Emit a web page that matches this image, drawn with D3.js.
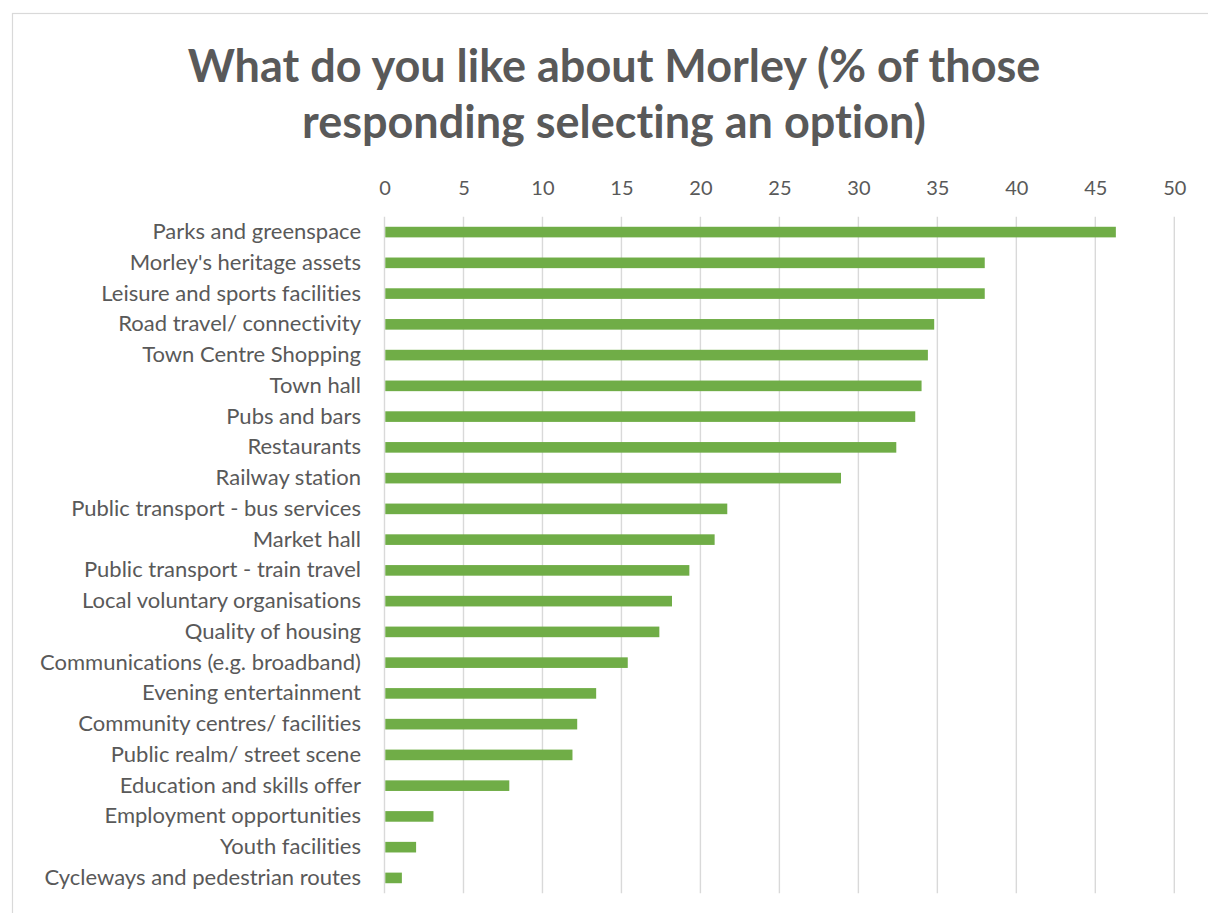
<!DOCTYPE html>
<html>
<head>
<meta charset="utf-8">
<script src="https://cdn.jsdelivr.net/npm/d3@7"></script>
<style>
  html, body { margin: 0; padding: 0; background: #fff; }
  svg { display: block; }
  svg text { font-variant-ligatures: none; font-feature-settings: "liga" 0, "clig" 0; }
</style>
</head>
<body>
<svg id="chart" width="1208" height="913"></svg>
<script>
// Survey responses: share of respondents choosing each option (%)
const categories = [
  "Parks and greenspace",
  "Morley's heritage assets",
  "Leisure and sports facilities",
  "Road travel/ connectivity",
  "Town Centre Shopping",
  "Town hall",
  "Pubs and bars",
  "Restaurants",
  "Railway station",
  "Public transport - bus services",
  "Market hall",
  "Public transport - train travel",
  "Local voluntary organisations",
  "Quality of housing",
  "Communications (e.g. broadband)",
  "Evening entertainment",
  "Community centres/ facilities",
  "Public realm/ street scene",
  "Education and skills offer",
  "Employment opportunities",
  "Youth facilities",
  "Cycleways and pedestrian routes"
];
const values = [
  46.3, 38.0, 38.0, 34.8, 34.4, 34.0, 33.6, 32.4, 28.9, 21.7, 20.9,
  19.3, 18.2, 17.4, 15.4, 13.4, 12.2, 11.9, 7.9, 3.1, 2.0, 1.1
];
const tickValues = [0, 5, 10, 15, 20, 25, 30, 35, 40, 45, 50];
const titleLines = [
  "What do you like about Morley (% of those",
  "responding selecting an option)"
];

const data = categories.map((c, i) => ({ name: c, value: values[i] }));

const svg = d3.select("#chart");
const font = "Lato, 'Open Sans', sans-serif";
const textColor = "#595959";

// chart area outline
svg.append("rect")
  .attr("x", 12.5).attr("y", 13.5)
  .attr("width", 1400).attr("height", 1000)
  .attr("fill", "#fff")
  .attr("stroke", "#d9d9d9").attr("stroke-width", 1.2);

const plot = { left: 384.5, right: 1174.3, top: 216.7, bottom: 893.3 };

const x = d3.scaleLinear().domain([0, 50]).range([plot.left, plot.right]);
const y = d3.scaleBand().domain(categories)
  .range([plot.top, plot.bottom])
  .paddingInner(0.655).paddingOuter(0.3275);

// title
svg.append("g").selectAll("text")
  .data(titleLines).join("text")
  .attr("x", 614)
  .attr("y", (d, i) => 82 + i * 56)
  .attr("text-anchor", "middle")
  .attr("font-family", font)
  .attr("font-weight", 700)
  .attr("font-size", 45)
  .attr("fill", textColor)
  .text(d => d);

// vertical gridlines
svg.append("g").selectAll("line")
  .data(tickValues).join("line")
  .attr("x1", d => x(d)).attr("x2", d => x(d))
  .attr("y1", plot.top).attr("y2", plot.bottom)
  .attr("stroke", "#d9d9d9").attr("stroke-width", 1.4);

// top value axis
const xAxis = d3.axisTop(x).tickValues(tickValues).tickSize(0).tickPadding(0);
const gx = svg.append("g")
  .attr("transform", `translate(0, 195)`)
  .call(xAxis);
gx.select(".domain").remove();
gx.selectAll("text")
  .attr("font-family", font)
  .attr("font-size", 20)
  .attr("fill", textColor);

// bars
svg.append("g").selectAll("rect")
  .data(data).join("rect")
  .attr("x", x(0) + 0.8)
  .attr("y", d => y(d.name))
  .attr("width", d => x(d.value) - x(0) - 0.8)
  .attr("height", y.bandwidth())
  .attr("fill", "#70ad47");

// category axis labels
const yAxis = d3.axisLeft(y).tickSize(0).tickPadding(0);
const gy = svg.append("g")
  .attr("transform", `translate(361, 0)`)
  .call(yAxis);
gy.select(".domain").remove();
gy.selectAll("text")
  .attr("font-family", font)
  .attr("font-size", 22)
  .attr("fill", textColor);
</script>
</body>
</html>
